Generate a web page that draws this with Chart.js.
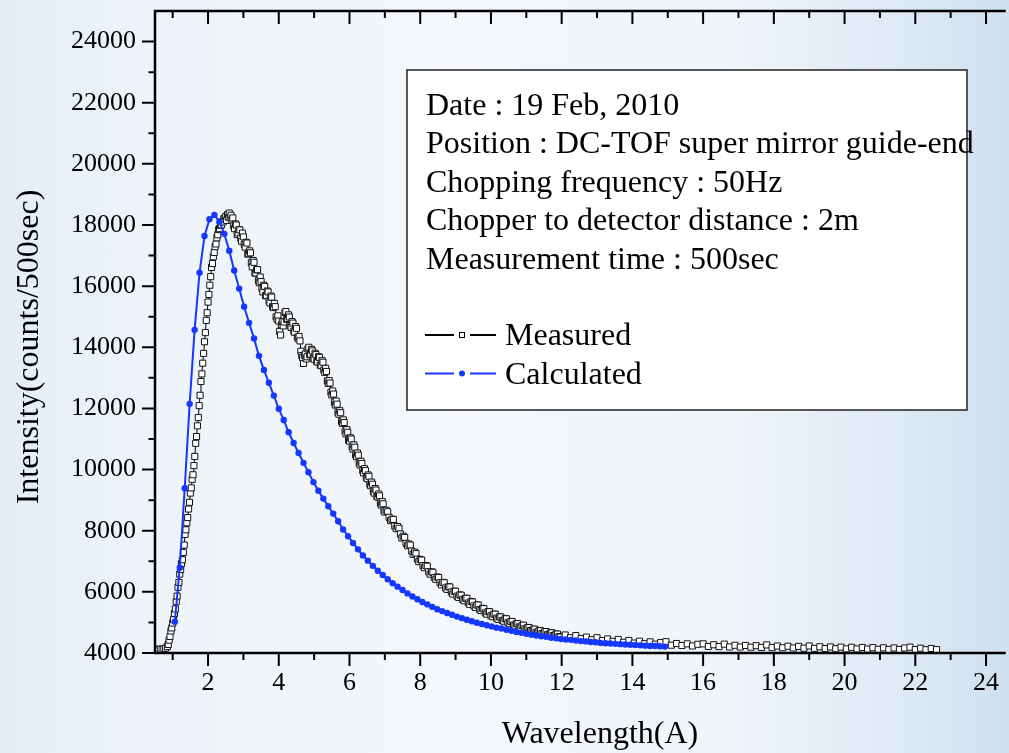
<!DOCTYPE html>
<html>
<head>
<meta charset="utf-8">
<script src="https://cdn.jsdelivr.net/npm/chart.js@4/dist/chart.umd.min.js"></script>
<style>
  html, body { margin: 0; padding: 0; overflow: hidden; }
  body {
    width: 1009px; height: 753px;
    background: linear-gradient(90deg, #e4edf6 0%, #edf3f9 14%, #f4f7fb 45%, #f0f5fa 72%, #dde9f5 90%, #cfe0f0 100%);
  }
  canvas { display: block; }
</style>
</head>
<body>
<canvas id="chart" width="1009" height="753"></canvas>
<script>
// measured spectrum (open squares)
const measuredWavelength = [
  0.55,0.60,0.65,0.70,0.75,0.80,0.85,
  0.875,0.900,0.925,0.950,0.975,1.000,1.025,1.050,1.075,1.100,
  1.125,1.150,1.175,1.200,1.225,1.250,1.275,1.300,1.325,1.350,
  1.375,1.400,1.425,1.450,1.475,1.500,1.525,1.550,1.575,1.600,
  1.625,1.650,1.675,1.700,1.725,1.750,1.775,1.800,1.825,1.850,
  1.875,1.900,1.925,1.950,1.975,2.000,2.025,2.050,2.075,2.100,
  2.125,2.150,2.175,2.200,2.225,2.250,2.275,2.300,2.325,2.350,
  2.375,2.400,2.425,2.450,2.475,2.500,2.525,2.550,2.575,2.600,
  2.625,2.650,2.675,
  2.700,2.725,2.750,2.775,2.800,2.825,2.850,2.875,2.900,2.925,
  2.950,2.975,3.000,3.025,3.050,3.075,3.100,3.125,3.150,3.175,
  3.200,3.225,3.250,3.275,3.300,3.325,3.350,3.375,3.400,3.425,
  3.450,3.475,3.500,3.525,3.550,3.575,3.600,3.625,3.650,3.675,
  3.700,3.725,3.750,3.775,3.800,3.825,3.850,3.875,3.900,3.925,
  3.950,3.975,4.000,4.025,4.050,4.075,4.100,4.125,4.150,4.175,
  4.200,4.225,4.250,4.275,4.300,4.325,4.350,4.375,4.400,4.425,
  4.450,4.475,4.500,4.525,4.550,4.575,4.600,4.625,4.650,4.675,
  4.700,4.725,4.750,4.775,4.800,4.825,4.850,4.875,4.900,4.925,
  4.950,4.975,5.000,5.025,5.050,5.075,5.100,5.125,5.150,5.175,
  5.200,5.225,5.250,5.275,5.300,5.325,5.350,5.375,5.400,5.425,
  5.450,5.475,5.500,5.525,5.550,5.575,5.600,5.625,5.650,5.675,
  5.700,5.725,5.750,5.775,5.800,5.825,5.850,5.875,5.900,5.925,
  5.950,5.975,6.000,6.025,6.050,6.075,6.100,6.125,6.150,6.175,
  6.200,6.225,6.250,6.275,6.300,6.325,6.350,6.375,6.400,6.425,
  6.450,6.475,6.500,6.525,6.550,6.575,6.600,6.625,6.650,6.675,
  6.700,6.725,6.750,6.775,6.800,6.825,6.850,6.875,6.900,6.925,
  6.950,6.975,7.000,
  7.04,7.08,7.12,7.16,7.20,7.24,7.28,7.32,7.36,7.40,
  7.44,7.48,7.52,7.56,7.60,7.64,7.68,7.72,7.76,7.80,
  7.84,7.88,7.92,7.96,8.00,8.04,8.08,8.12,8.16,8.20,
  8.24,8.28,8.32,8.36,8.40,8.44,8.48,8.52,8.56,8.60,
  8.64,8.68,8.72,8.76,8.80,8.84,8.88,8.92,8.96,9.00,
  9.04,9.08,9.12,9.16,9.20,9.24,9.28,9.32,9.36,9.40,
  9.44,9.48,9.52,9.56,9.60,9.64,9.68,9.72,9.76,9.80,
  9.84,9.88,9.92,9.96,10.00,10.04,10.08,10.12,10.16,10.20,
  10.24,10.28,10.32,10.36,10.40,10.44,10.48,10.52,10.56,10.60,
  10.64,10.68,10.72,10.76,10.80,10.84,10.88,10.92,10.96,11.00,
  11.04,11.08,11.12,11.16,11.20,11.24,11.28,11.32,11.36,11.40,
  11.44,11.48,11.52,11.56,11.60,11.64,11.68,11.72,11.76,11.80,
  11.84,11.88,11.92,11.96,
  12.10,12.25,12.40,12.55,12.70,12.85,13.00,13.15,13.30,13.45,
  13.60,13.75,13.90,14.05,14.20,14.35,14.50,14.65,14.80,14.95,
  15.10,15.25,15.40,15.55,15.70,15.85,16.00,16.15,16.30,16.45,
  16.60,16.75,16.90,17.05,17.20,17.35,17.50,17.65,17.80,17.95,
  18.10,18.25,18.40,18.55,18.70,18.85,19.00,19.15,19.30,19.45,
  19.60,19.75,19.90,20.05,20.20,20.35,20.50,20.65,20.80,20.95,
  21.10,21.25,21.40,21.55,21.70,21.85,22.00,22.15,22.30,22.45,
  22.60
];
const measuredIntensity = [
  4120,4100,4130,4110,4140,4160,4210,
  4280,4420,4540,4720,4820,4980,5090,5290,5440,5680,
  5860,6150,6310,6580,6730,6930,7050,7290,7530,7880,
  8030,8260,8430,8710,8930,9230,9400,9680,9830,10130,
  10430,10860,11080,11430,11700,12090,12430,12880,13130,13480,
  13800,14180,14480,14880,15130,15480,15730,16030,16310,16610,
  16740,16960,17100,17290,17380,17580,17680,17850,17880,17990,
  18000,18110,18100,18210,18200,18280,18150,18340,18260,18390,
  18230,18320,18160,
  18230,17975,17880,18035,18000,17685,17740,17850,17840,17565,
  17470,17735,17610,17360,17280,17435,17410,17050,17060,17155,
  17090,16770,16630,16840,16780,16430,16430,16535,16540,16180,
  16110,16300,16150,15925,15810,16030,15990,15690,15690,15840,
  15810,15515,15450,15675,15640,15330,15300,15435,15330,14995,
  14920,15030,14860,14520,14400,14735,14840,14700,14830,15140,
  15170,14915,14940,15060,14990,14700,14650,14840,14790,14530,
  14490,14680,14620,14330,14280,14355,14210,13870,13730,13665,
  13470,13730,13780,13620,13690,13945,14000,13755,13770,13930,
  13880,13645,13610,13805,13760,13530,13520,13690,13670,13415,
  13400,13560,13510,13255,13180,13310,13210,12900,12820,12910,
  12830,12530,12440,12570,12470,12200,12110,12240,12140,11870,
  11810,11925,11860,11570,11510,11625,11540,11260,11170,11305,
  11220,10965,10930,11040,11000,10740,10670,10805,10730,10480,
  10420,10540,10470,10210,10150,10270,10200,9960,9890,10030,
  9970,9740,9700,9825,9780,9525,9470,9590,9520,9290,
  9230,9380,9330,9120,9100,9200,9140,8900,8840,8950,
  8880,8660,8610,
  8670,8620,8440,8330,8375,8370,8150,8070,8140,8080,
  7895,7760,7820,7780,7590,7510,7565,7530,7335,7230,
  7300,7250,7075,6990,7060,7040,6855,6790,6860,6840,
  6660,6580,6655,6640,6465,6410,6485,6470,6300,6230,
  6310,6300,6130,6080,6165,6160,5995,5930,6020,6020,
  5860,5820,5900,5890,5755,5710,5790,5790,5635,5590,
  5685,5670,5540,5490,5570,5570,5425,5390,5460,5450,
  5315,5270,5355,5350,5220,5190,5270,5270,5140,5100,
  5180,5180,5065,5040,5120,5120,4990,4960,5030,5030,
  4915,4890,4960,4960,4855,4830,4895,4910,4795,4760,
  4835,4830,4735,4710,4775,4780,4680,4650,4730,4730,
  4640,4620,4690,4700,4600,4580,4655,4660,4570,4550,
  4620,4620,4535,4520,
  4590,4500,4570,4470,4520,4435,4500,4405,4460,4380,
  4445,4350,4410,4325,4385,4305,4365,4290,4340,4370,
  4255,4310,4245,4300,4230,4285,4300,4215,4270,4210,
  4290,4198,4253,4195,4247,4189,4240,4182,4264,4176,
  4228,4170,4222,4164,4216,4158,4230,4152,4204,4146,
  4198,4140,4192,4134,4186,4133,4180,4127,4174,4121,
  4169,4117,4165,4113,4162,4191,4110,4158,4106,4148,
  4110
];

// calculated spectrum (blue dots)
const calcWavelength = [
  1.06,1.20,1.34,1.48,1.62,1.76,1.90,2.04,2.18,2.32,
  2.46,2.60,2.74,2.88,3.02,3.16,3.30,3.44,3.58,3.72,
  3.86,4.00,4.14,4.28,4.42,4.56,4.70,4.84,4.98,5.12,
  5.26,5.40,5.54,5.68,5.82,5.96,6.10,6.24,6.38,6.52,
  6.66,6.80,6.94,7.08,7.22,7.36,7.50,7.64,7.78,7.92,
  8.06,8.20,8.34,8.48,8.62,8.76,8.90,9.04,9.18,9.32,
  9.46,9.60,9.74,9.88,10.02,10.16,10.30,10.44,10.58,10.72,
  10.86,11.00,11.14,11.28,11.42,11.56,11.70,11.84,11.98,12.12,
  12.26,12.40,12.54,12.68,12.82,12.96,13.10,13.24,13.38,13.52,
  13.66,13.80,13.94,14.08,14.22,14.36,14.50,14.64,14.78,14.92
];
const calcIntensity = [
  5020,6790,9390,12150,14570,16440,17640,18190,18330,18110,
  17710,17160,16510,15920,15330,14800,14290,13720,13260,12840,
  12420,11990,11620,11220,10870,10540,10220,9910,9590,9310,
  9050,8800,8560,8310,8040,7820,7600,7390,7190,7020,
  6850,6690,6550,6410,6280,6170,6060,5950,5850,5760,
  5670,5590,5510,5430,5370,5310,5250,5190,5140,5090,
  5040,4990,4950,4910,4870,4830,4800,4760,4730,4690,
  4660,4630,4600,4570,4550,4530,4500,4480,4460,4440,
  4430,4410,4390,4380,4360,4350,4330,4320,4310,4300,
  4290,4280,4270,4260,4250,4240,4230,4230,4220,4210
];

// axis ticks (every integer / every 1000, labels on the even ones)
const xTickValues = [1,2,3,4,5,6,7,8,9,10,11,12,13,14,15,16,17,18,19,20,21,22,23,24];
const yTickValues = [4000,5000,6000,7000,8000,9000,10000,11000,12000,13000,14000,
  15000,16000,17000,18000,19000,20000,21000,22000,23000,24000];

const infoLines = [
  'Date : 19 Feb, 2010',
  'Position : DC-TOF super mirror guide-end',
  'Chopping frequency : 50Hz',
  'Chopper to detector distance : 2m',
  'Measurement time : 500sec'
];
const xTitle = 'Wavelength(A)';
const yTitle = 'Intensity(counts/500sec)';

const serif = '"Liberation Serif", "Times New Roman", serif';
const blue = '#1438ff';

// axes, ticks, titles and the text box (Origin style)
const originFrame = {
  id: 'originFrame',
  afterDraw(chart) {
    const { ctx, chartArea: a, scales: { x, y } } = chart;
    ctx.save();
    ctx.strokeStyle = '#000';
    ctx.lineWidth = 2.5;
    ctx.beginPath();
    ctx.moveTo(a.right + 2, a.top);
    ctx.lineTo(a.left, a.top);
    ctx.lineTo(a.left, a.bottom);
    ctx.lineTo(a.right + 2, a.bottom);
    ctx.stroke();

    ctx.lineWidth = 2;
    ctx.beginPath();
    x.ticks.forEach(t => {
      const px = x.getPixelForValue(t.value);
      const len = t.value % 2 === 0 ? 13 : 7;
      ctx.moveTo(px, a.bottom);
      ctx.lineTo(px, a.bottom + len);
      ctx.moveTo(px, a.top);
      ctx.lineTo(px, a.top + len);
    });
    y.ticks.forEach(t => {
      const py = y.getPixelForValue(t.value);
      const len = t.value % 2000 === 0 ? 13 : 6.5;
      ctx.moveTo(a.left, py);
      ctx.lineTo(a.left - len, py);
    });
    ctx.stroke();

    // axis titles
    ctx.fillStyle = '#000';
    ctx.font = '32px ' + serif;
    ctx.textAlign = 'center';
    ctx.textBaseline = 'alphabetic';
    ctx.fillText(xTitle, 600, 743);
    ctx.save();
    ctx.translate(37.5, 347);
    ctx.rotate(-Math.PI / 2);
    ctx.fillText(yTitle, 0, 0);
    ctx.restore();

    // info box
    ctx.fillStyle = '#fff';
    ctx.fillRect(407, 70, 560, 340);
    ctx.lineWidth = 1.5;
    ctx.strokeStyle = '#222';
    ctx.strokeRect(407, 70, 560, 340);

    ctx.fillStyle = '#000';
    ctx.textAlign = 'left';
    infoLines.forEach((line, i) => {
      ctx.fillText(line, 426, 114.5 + i * 38.5);
    });

    // legend entries
    const entries = chart.data.datasets;
    entries.slice().reverse().forEach((ds, i) => {
      const ly = 335 + i * 38.5;
      ctx.strokeStyle = ds.borderColor;
      ctx.lineWidth = 2;
      ctx.beginPath();
      ctx.moveTo(425, ly); ctx.lineTo(454, ly);
      ctx.moveTo(470, ly); ctx.lineTo(496, ly);
      ctx.stroke();
      if (ds.pointStyle === 'rect') {
        ctx.fillStyle = '#fff';
        ctx.lineWidth = 1;
        ctx.strokeStyle = '#000';
        ctx.fillRect(459.5, ly - 2.5, 5, 5);
        ctx.strokeRect(459.5, ly - 2.5, 5, 5);
      } else {
        ctx.fillStyle = ds.pointBackgroundColor;
        ctx.beginPath();
        ctx.arc(462, ly, 3, 0, Math.PI * 2);
        ctx.fill();
      }
      ctx.fillStyle = '#000';
      ctx.fillText(ds.label, 505, ly + 10);
    });
    ctx.restore();
  }
};

new Chart(document.getElementById('chart'), {
  type: 'scatter',
  data: {
    datasets: [
      {
        label: 'Calculated',
        data: calcWavelength.map((w, i) => ({ x: w, y: calcIntensity[i] })),
        showLine: true,
        borderColor: blue,
        borderWidth: 2,
        pointStyle: 'circle',
        pointRadius: 3.2,
        pointBorderWidth: 0,
        pointBackgroundColor: blue
      },
      {
        label: 'Measured',
        data: measuredWavelength.map((w, i) => ({ x: w, y: measuredIntensity[i] })),
        showLine: true,
        borderColor: '#000',
        borderWidth: 1,
        pointStyle: 'rect',
        pointRadius: 4.3,
        pointBorderWidth: 1,
        pointBorderColor: '#111',
        pointBackgroundColor: '#fff'
      }
    ]
  },
  options: {
    responsive: false,
    animation: false,
    layout: { padding: { top: 11, right: 0, left: 0, bottom: 0 } },
    plugins: { legend: { display: false }, tooltip: { enabled: false } },
    scales: {
      x: {
        type: 'linear',
        min: 0.5,
        max: 24.5,
        grid: { display: false, drawTicks: false },
        border: { display: false },
        ticks: {
          autoSkip: false,
          maxRotation: 0,
          padding: 15,
          color: '#000',
          font: { family: serif, size: 26 },
          callback: v => (v % 2 === 0 ? v : '')
        },
        afterBuildTicks: s => { s.ticks = xTickValues.map(v => ({ value: v })); },
        afterFit: s => { s.height = 100; s.paddingLeft = 0; s.paddingRight = 0; }
      },
      y: {
        min: 4000,
        max: 25000,
        grid: { display: false, drawTicks: false },
        border: { display: false },
        ticks: {
          autoSkip: false,
          padding: 19,
          color: '#000',
          font: { family: serif, size: 26 },
          callback: v => (v % 2000 === 0 ? v : '')
        },
        afterBuildTicks: s => { s.ticks = yTickValues.map(v => ({ value: v })); },
        afterFit: s => { s.width = 155; s.paddingTop = 0; s.paddingBottom = 0; }
      }
    }
  },
  plugins: [originFrame]
});
</script>
</body>
</html>
